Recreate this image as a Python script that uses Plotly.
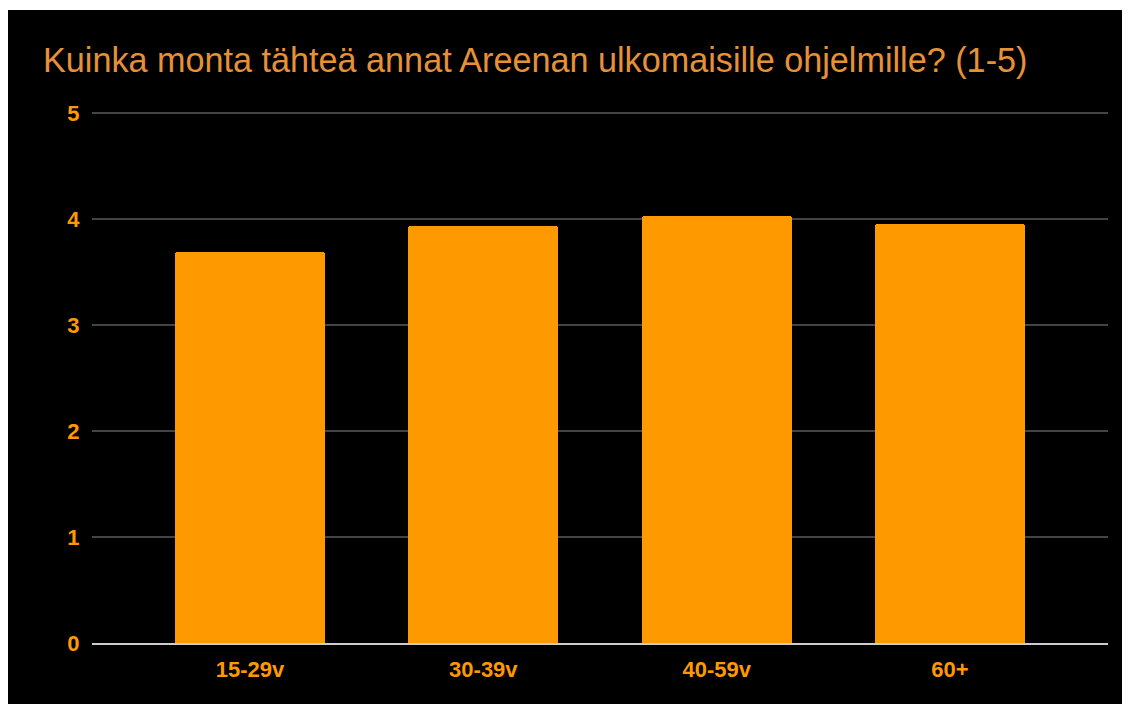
import plotly.graph_objects as go

categories = ["15-29v", "30-39v", "40-59v", "60+"]
values = [3.69, 3.94, 4.03, 3.95]
y_ticks = [0, 1, 2, 3, 4, 5]
title_text = "Kuinka monta tähteä annat Areenan ulkomaisille ohjelmille? (1-5)"

# page body has an 8px margin, so the figure is 8px smaller than the window
W, H = 1122, 696
L, R, T, B = 84, 22, 102, 61
pw = W - L - R
ph = H - T - B

fig = go.Figure(go.Bar(
    x=categories, y=values, width=0.643,
    marker=dict(color="#ff9900", cornerradius=3, line=dict(width=0)),
    hoverinfo="x+y",
))

# thin white strip at the very top (reference black starts slightly lower)
fig.add_shape(type="rect", xref="paper", yref="paper",
              x0=-0.2, x1=1.2, y0=(H - B - 2) / ph, y1=1.5,
              fillcolor="white", line=dict(width=0), layer="below")

fig.update_layout(
    width=W, height=H,
    margin=dict(l=L, r=R, t=T, b=B, pad=0),
    paper_bgcolor="black",
    plot_bgcolor="black",
    showlegend=False,
    bargap=0,
    title=dict(text=title_text, x=35 / W, xanchor="left", xref="container",
               y=1 - 52 / H, yanchor="middle", yref="container",
               font=dict(family="Liberation Sans, Arial", size=34.2, color="#e69138")),
    font=dict(family="Liberation Sans, Arial"),
)
fig.update_xaxes(
    range=[-0.677, 3.677], showgrid=False, zeroline=False,
    showline=True, linecolor="#cccccc", linewidth=2,
    ticks="outside", ticklen=6, tickcolor="rgba(0,0,0,0)",
    tickfont=dict(size=22, color="#ff9900", family="Liberation Sans, Arial", weight="bold"),
)
fig.update_yaxes(
    range=[0, 5.03], tickvals=y_ticks, showgrid=True, gridcolor="#444444", gridwidth=1.5,
    zeroline=False, showline=False,
    ticks="outside", ticklen=7, tickcolor="rgba(0,0,0,0)",
    tickfont=dict(size=22, color="#ff9900", family="Liberation Sans, Arial", weight="bold"),
)
fig.write_html("out.html")
